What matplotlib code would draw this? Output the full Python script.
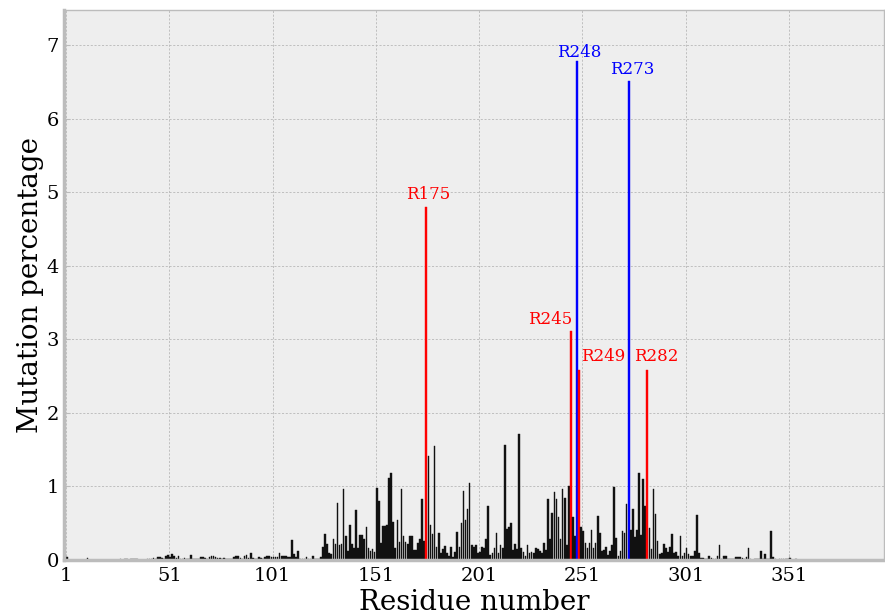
import matplotlib
matplotlib.use("Agg")
import matplotlib.pyplot as plt
import numpy as np

plt.style.use("bmh")
plt.rcParams["font.family"] = ["DejaVu Serif"]

# Mutation percentage per residue (1..393)
low_1_92 = [0.04, 0, 0, 0, 0, 0, 0, 0, 0, 0, 0.03, 0, 0, 0, 0, 0, 0, 0, 0, 0,
            0, 0, 0, 0, 0, 0, 0.01, 0, 0.01, 0.02, 0, 0.02, 0.01, 0.02, 0.01, 0, 0, 0, 0, 0.01,
            0.02, 0.01, 0.03, 0.01, 0.04, 0.04, 0.03, 0.02, 0.05, 0.07, 0.04, 0.08, 0.06, 0.03, 0.05, 0.02, 0.01, 0.03, 0.02, 0.01,
            0.07, 0.02, 0.01, 0.01, 0.02, 0.04, 0.04, 0.03, 0.02, 0.04, 0.05, 0.05, 0.04, 0.03, 0.03, 0.02, 0.03, 0.02, 0.01, 0.02,
            0.01, 0.04, 0.05, 0.05, 0.03, 0.02, 0.05, 0.07, 0.03, 0.10, 0.03, 0.02]
mid_93_123 = [0.02, 0.04, 0.03, 0.02, 0.04, 0.05, 0.06, 0.04, 0.04, 0.04,
              0.04, 0.09, 0.06, 0.05, 0.06, 0.04, 0.04, 0.27, 0.08, 0.04,
              0.12, 0.01, 0.01, 0.01, 0.04, 0.02, 0.01, 0.06, 0.02, 0.02, 0.01]
core_124_151 = [0.04, 0.18, 0.35, 0.22, 0.09, 0.08, 0.29, 0.22, 0.78, 0.21,
                0.22, 0.96, 0.33, 0.12, 0.47, 0.22, 0.17, 0.68, 0.16, 0.34,
                0.34, 0.28, 0.45, 0.17, 0.12, 0.15, 0.11, 0.98]
core_152_200 = [0.80, 0.23, 0.46, 0.46, 0.47, 1.12, 1.18, 0.52, 0.17, 0.55,
                0.25, 0.96, 0.33, 0.25, 0.22, 0.32, 0.32, 0.13, 0.14, 0.23,
                0.29, 0.83, 0.26, 4.80, 1.42, 0.48, 0.35, 1.55, 0.18, 0.37,
                0.09, 0.15, 0.19, 0.09, 0.06, 0.18, 0.04, 0.11, 0.38, 0.18,
                0.51, 0.94, 0.55, 0.70, 1.05, 0.20, 0.18, 0.21, 0.09]
core_201_250 = [0.11, 0.18, 0.16, 0.28, 0.73, 0.07, 0.09, 0.17, 0.37, 0.09,
                0.21, 0.17, 1.56, 0.42, 0.45, 0.51, 0.14, 0.22, 0.15, 1.71,
                0.17, 0.11, 0.06, 0.21, 0.10, 0.11, 0.10, 0.16, 0.15, 0.12,
                0.09, 0.23, 0.13, 0.83, 0.28, 0.64, 0.92, 0.83, 0.58, 0.28,
                0.96, 0.85, 0.20, 1.00, 3.11, 0.59, 0.32, 6.78, 2.58, 0.45]
core_251_300 = [0.39, 0.23, 0.17, 0.23, 0.41, 0.16, 0.23, 0.60, 0.37, 0.12,
                0.13, 0.18, 0.07, 0.12, 0.21, 0.99, 0.30, 0.06, 0.12, 0.40,
                0.37, 0.76, 6.52, 0.41, 0.69, 0.31, 0.41, 1.19, 0.34, 1.10,
                0.73, 2.58, 0.44, 0.15, 0.96, 0.62, 0.26, 0.08, 0.09, 0.22,
                0.17, 0.11, 0.18, 0.36, 0.10, 0.11, 0.06, 0.33, 0.06, 0.10]
tail_301_393 = [0.16, 0.08, 0.06, 0.06, 0.12, 0.61, 0.09, 0.03, 0.03, 0.01,
                0.02, 0.05, 0.03, 0.02, 0.02, 0.05, 0.20, 0.02, 0.05, 0.05,
                0.02, 0.02, 0.02, 0.02, 0.04, 0.04, 0.04, 0.03, 0.02, 0.04,
                0.16, 0.02, 0.0, 0.01, 0.01, 0.02, 0.12, 0.02, 0.08, 0.01,
                0.02, 0.40, 0.04, 0.01, 0.0, 0.01, 0.01, 0.01, 0.02, 0.01,
                0.03, 0, 0, 0.01, 0, 0, 0, 0, 0, 0,
                0.005, 0, 0, 0, 0, 0, 0, 0, 0, 0,
                0, 0, 0, 0, 0, 0, 0, 0, 0, 0,
                0, 0, 0, 0, 0, 0, 0, 0, 0, 0,
                0, 0, 0]

values = np.array(low_1_92 + mid_93_123 + core_124_151 + core_152_200 +
                  core_201_250 + core_251_300 + tail_301_393)
residues = np.arange(1, len(values) + 1)

hotspots = [175, 245, 248, 249, 273, 282]
hotspot_labels = ["R175", "R245", "R248", "R249", "R273", "R282"]
hotspot_colors = ["red", "red", "blue", "red", "blue", "red"]
label_dx = [1.5, -9.5, 1.5, 12.0, 2.0, 4.5]
label_dy = [0.05, 0.04, 0.0, 0.07, 0.03, 0.07]

tick_pos = [1, 51, 101, 151, 201, 251, 301, 351]

fig = plt.figure(figsize=(8.85, 6.16), dpi=100)
ax = fig.add_axes([0.0723, 0.0909, 0.9266, 0.8929])

base_colors = ["#111111"] * len(values)
for r, c in zip(hotspots, hotspot_colors):
    base_colors[r - 1] = c
ax.bar(residues, values, width=0.8, align="edge", color=base_colors,
       edgecolor=base_colors, linewidth=0.3)

for r, lab, c, dx, dy in zip(hotspots, hotspot_labels, hotspot_colors, label_dx, label_dy):
    ax.text(r + dx, values[r - 1] + dy, lab, color=c, fontsize=12,
            ha="center", va="bottom")

ax.set_xlim(0, 397)
ax.set_ylim(0, 7.48)
ax.set_xticks(tick_pos)
ax.set_xticklabels([str(t) for t in tick_pos])
ax.set_yticks(range(0, 8))
ax.tick_params(axis="both", labelsize=14, direction="in", colors="#bcbcbc",
               labelcolor="black", length=4)
ax.tick_params(axis="x", pad=5)
ax.grid(True, linestyle=(0, (2.5, 2)), linewidth=0.6, color="#b8b8b8")
ax.set_axisbelow(True)
for s in ax.spines.values():
    s.set_color("#bcbcbc")
    s.set_linewidth(1.0)
ax.spines["left"].set_linewidth(2.5)
ax.spines["bottom"].set_linewidth(2.5)
ax.set_xlabel("Residue number", fontsize=20, labelpad=3)
ax.set_ylabel("Mutation percentage", fontsize=20, labelpad=2)

fig.savefig("out.png", dpi=100)
